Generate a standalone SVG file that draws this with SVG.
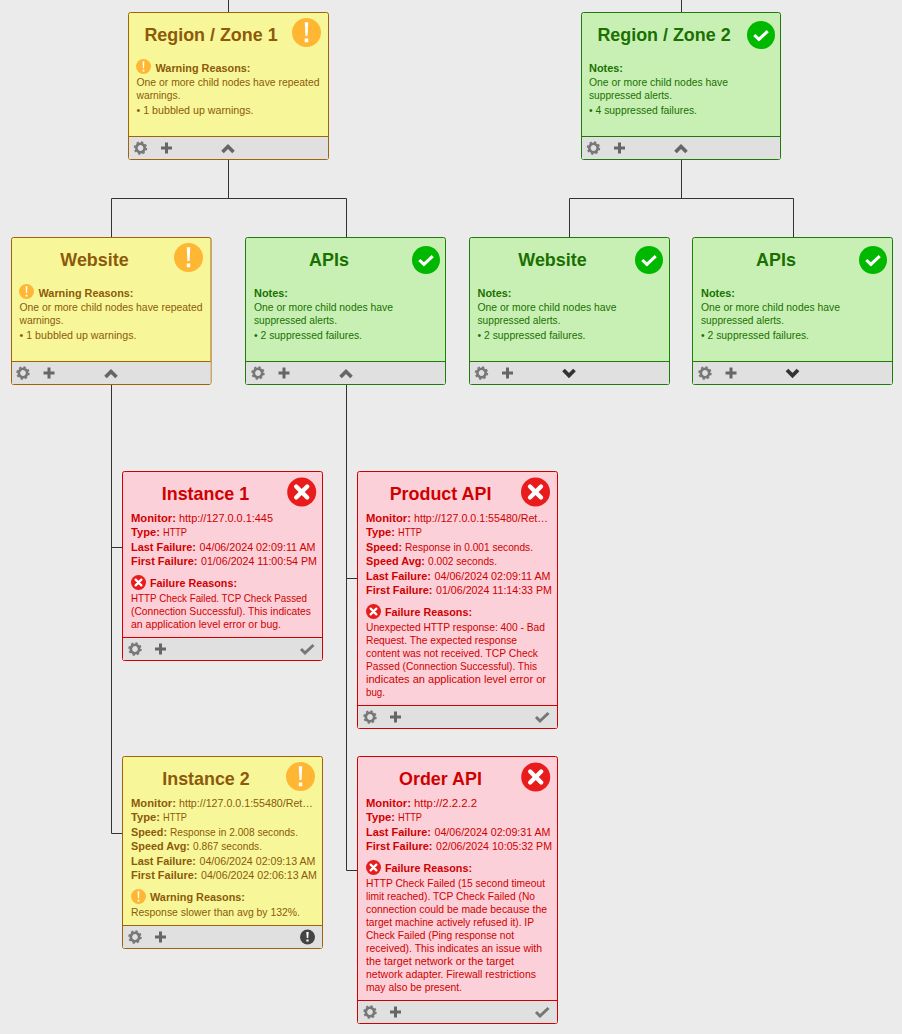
<svg xmlns="http://www.w3.org/2000/svg" xmlns:xlink="http://www.w3.org/1999/xlink" width="902" height="1034" viewBox="0 0 902 1034">
<style>
text{font-family:"Liberation Sans",Arial,sans-serif;font-size:11.6px}
.t{font-size:17.9px;font-weight:bold;text-anchor:middle}
.b{font-weight:bold}
.y .c{fill:#f7f799;stroke:#a0620a}.y text{fill:#8c5a0a}
.g .c{fill:#c8f0b4;stroke:#1f7a0a}.g text{fill:#1a7000}
.r .c{fill:#fbd0d8;stroke:#d00000}.r text{fill:#d00000}
.f{fill:#e0e0e0}
.y .l{stroke:#a0620a}.g .l{stroke:#1f7a0a}.r .l{stroke:#d00000}
.l{fill:none}
#edges path{fill:none;stroke:#333;stroke-width:1}
</style>
<defs>
<g id="warn"><circle r="10" fill="#ffb733"/><path d="M-1.2-7H1.2L.7 2.4H-.7ZM-1.2 4.2H1.2V6.8H-1.2Z" fill="#fff"/></g>
<g id="ok"><circle r="10" fill="#00b800"/><path d="M-4.8 0-1.5 3.2 4.8-2.8" fill="none" stroke="#fff" stroke-width="2.2"/></g>
<g id="err"><circle r="10" fill="#e81c1c"/><path d="M-3.8-3.8 3.8 3.8M3.8-3.8-3.8 3.8" fill="none" stroke="#fff" stroke-width="3" stroke-linecap="round"/></g>
<g id="gear"><circle r="4.2" fill="none" stroke="#777" stroke-width="2.6"/><circle r="5.9" fill="none" stroke="#777" stroke-width="1.6" stroke-dasharray="2.3 2.3"/></g>
<path id="plus" d="M-5.5-1.5H-1.5V-5.5H1.5V-1.5H5.5V1.5H1.5V5.5H-1.5V1.5H-5.5Z" fill="#666"/>
<path id="up" d="M-5.5 4 0-1.5 5.5 4" fill="none" stroke="#666" stroke-width="3.6"/>
<path id="down" d="M-5.5 -3 0 2.5 5.5 -3" fill="none" stroke="#333" stroke-width="3.8"/>
<path id="tick" d="M-6.5 0-2.5 4 6-4" fill="none" stroke="#777" stroke-width="3"/>
<g id="bang"><circle r="7.5" fill="#444"/><path d="M-1.2-5H1.2L.7 1H-.7ZM-1.1 2.4H1.1V4.6H-1.1Z" fill="#fff"/></g>
</defs>
<rect width="902" height="1034" fill="#ebebeb"/>
<g id="edges">
<path d="M228.5 0V12M681.5 0V12"/>
<path d="M228.5 160V198.5M111.5 237V198.5H346.5V237"/>
<path d="M681.5 160V198.5M569.5 237V198.5H793.5V237"/>
<path d="M111.5 385V833.5H122M111.5 547.5H122"/>
<path d="M346.5 385V870.5H357M346.5 578.5H357"/>
</g>
<g id="region1" class="y">
<rect class="c" x="128.5" y="12.5" width="200" height="147" rx="2"/>
<path class="f" d="M129 137H328V159H129Z"/><path class="l" d="M129 136.5H328"/>
<text class="t" x="211" y="41">Region / Zone 1</text>
<use xlink:href="#warn" transform="translate(306.5 32.5) scale(1.45)"/>
<use xlink:href="#warn" transform="translate(143.5 66.5) scale(.75)"/>
<text class="b" x="155.500" y="72" textLength="95" lengthAdjust="spacingAndGlyphs">Warning Reasons:</text>
<text x="136.500" y="86" textLength="183" lengthAdjust="spacingAndGlyphs">One or more child nodes have repeated</text>
<text x="136.500" y="99" textLength="44" lengthAdjust="spacingAndGlyphs">warnings.</text>
<text x="136.500" y="114" textLength="117" lengthAdjust="spacingAndGlyphs">• 1 bubbled up warnings.</text>
<use xlink:href="#gear" x="140.5" y="148"/><use xlink:href="#plus" x="166.5" y="148"/><use xlink:href="#up" x="228" y="148"/>
</g>
<g id="region2" class="g">
<rect class="c" x="581.5" y="12.5" width="199" height="147" rx="2"/>
<path class="f" d="M582 137H780V159H582Z"/><path class="l" d="M582 136.5H780"/>
<text class="t" x="664" y="41">Region / Zone 2</text>
<use xlink:href="#ok" transform="translate(761 35) scale(1.4)"/>
<text class="b" x="589" y="72" textLength="34" lengthAdjust="spacingAndGlyphs">Notes:</text>
<text x="589" y="86" textLength="139" lengthAdjust="spacingAndGlyphs">One or more child nodes have</text>
<text x="589" y="99" textLength="83" lengthAdjust="spacingAndGlyphs">suppressed alerts.</text>
<text x="589" y="114" textLength="108" lengthAdjust="spacingAndGlyphs">• 4 suppressed failures.</text>
<use xlink:href="#gear" x="593.5" y="148"/><use xlink:href="#plus" x="619.5" y="148"/><use xlink:href="#up" x="681" y="148"/>
</g>
<g id="website1" class="y">
<rect class="c" x="11.5" y="237.5" width="199.5" height="147" rx="2"/>
<path class="f" d="M12 362H210.5V384H12Z"/><path class="l" d="M12 361.5H210.5"/>
<text class="t" x="94.500" y="266">Website</text>
<use xlink:href="#warn" transform="translate(188.500 257.500) scale(1.45)"/>
<use xlink:href="#warn" transform="translate(26.500 291.500) scale(.75)"/>
<text class="b" x="38.500" y="297" textLength="95" lengthAdjust="spacingAndGlyphs">Warning Reasons:</text>
<text x="19.500" y="311" textLength="183" lengthAdjust="spacingAndGlyphs">One or more child nodes have repeated</text>
<text x="19.500" y="324" textLength="44" lengthAdjust="spacingAndGlyphs">warnings.</text>
<text x="19.500" y="339" textLength="117" lengthAdjust="spacingAndGlyphs">• 1 bubbled up warnings.</text>
<use xlink:href="#gear" x="23" y="373"/><use xlink:href="#plus" x="49" y="373"/><use xlink:href="#up" x="111" y="373"/>
</g>
<g id="apis1" class="g">
<rect class="c" x="245.500" y="237.5" width="200" height="147" rx="2"/>
<path class="f" d="M246 362H445V384H246Z"/><path class="l" d="M246 361.5H445"/>
<text class="t" x="329" y="266">APIs</text>
<use xlink:href="#ok" transform="translate(426 260) scale(1.4)"/>
<text class="b" x="254" y="297" textLength="34" lengthAdjust="spacingAndGlyphs">Notes:</text>
<text x="254" y="311" textLength="139" lengthAdjust="spacingAndGlyphs">One or more child nodes have</text>
<text x="254" y="324" textLength="83" lengthAdjust="spacingAndGlyphs">suppressed alerts.</text>
<text x="254" y="339" textLength="108" lengthAdjust="spacingAndGlyphs">• 2 suppressed failures.</text>
<use xlink:href="#gear" x="258" y="373"/><use xlink:href="#plus" x="284" y="373"/><use xlink:href="#up" x="346" y="373"/>
</g>
<g id="website2" class="g">
<rect class="c" x="469.5" y="237.5" width="200" height="147" rx="2"/>
<path class="f" d="M470 362H669V384H470Z"/><path class="l" d="M470 361.5H669"/>
<text class="t" x="552.500" y="266">Website</text>
<use xlink:href="#ok" transform="translate(649 260) scale(1.4)"/>
<text class="b" x="477.500" y="297" textLength="34" lengthAdjust="spacingAndGlyphs">Notes:</text>
<text x="477.500" y="311" textLength="139" lengthAdjust="spacingAndGlyphs">One or more child nodes have</text>
<text x="477.500" y="324" textLength="83" lengthAdjust="spacingAndGlyphs">suppressed alerts.</text>
<text x="477.500" y="339" textLength="108" lengthAdjust="spacingAndGlyphs">• 2 suppressed failures.</text>
<use xlink:href="#gear" x="481.500" y="373"/><use xlink:href="#plus" x="507.500" y="373"/><use xlink:href="#down" x="569" y="373"/>
</g>
<g id="apis2" class="g">
<rect class="c" x="692.5" y="237.5" width="200" height="147" rx="2"/>
<path class="f" d="M693 362H892V384H693Z"/><path class="l" d="M693 361.5H892"/>
<text class="t" x="776" y="266">APIs</text>
<use xlink:href="#ok" transform="translate(873 260) scale(1.4)"/>
<text class="b" x="701" y="297" textLength="34" lengthAdjust="spacingAndGlyphs">Notes:</text>
<text x="701" y="311" textLength="139" lengthAdjust="spacingAndGlyphs">One or more child nodes have</text>
<text x="701" y="324" textLength="83" lengthAdjust="spacingAndGlyphs">suppressed alerts.</text>
<text x="701" y="339" textLength="108" lengthAdjust="spacingAndGlyphs">• 2 suppressed failures.</text>
<use xlink:href="#gear" x="705" y="373"/><use xlink:href="#plus" x="731" y="373"/><use xlink:href="#down" x="792.500" y="373"/>
</g>
<g id="instance1" class="r">
<rect class="c" x="122.500" y="471.5" width="200" height="189" rx="2"/>
<path class="f" d="M123 638H322V660H123Z"/><path class="l" d="M123 637.5H322"/>
<text class="t" x="205.500" y="500">Instance 1</text>
<use xlink:href="#err" transform="translate(301.700 492) scale(1.45)"/>
<text class="b" x="131" y="522" textLength="45" lengthAdjust="spacingAndGlyphs">Monitor:</text><text x="179" y="522" textLength="94" lengthAdjust="spacingAndGlyphs">http://127.0.0.1:445</text>
<text class="b" x="131" y="536" textLength="29" lengthAdjust="spacingAndGlyphs">Type:</text><text x="163" y="536" textLength="24" lengthAdjust="spacingAndGlyphs">HTTP</text>
<text class="b" x="131" y="551" textLength="65" lengthAdjust="spacingAndGlyphs">Last Failure:</text><text x="199.500" y="551" textLength="116" lengthAdjust="spacingAndGlyphs">04/06/2024 02:09:11 AM</text>
<text class="b" x="131" y="565" textLength="66.500" lengthAdjust="spacingAndGlyphs">First Failure:</text><text x="201" y="565" textLength="116" lengthAdjust="spacingAndGlyphs">01/06/2024 11:00:54 PM</text>
<use xlink:href="#err" transform="translate(138.500 582.500) scale(.75)"/>
<text class="b" x="150" y="587" textLength="87" lengthAdjust="spacingAndGlyphs">Failure Reasons:</text>
<text x="131" y="602" textLength="176" lengthAdjust="spacingAndGlyphs">HTTP Check Failed. TCP Check Passed</text>
<text x="131" y="615" textLength="180" lengthAdjust="spacingAndGlyphs">(Connection Successful). This indicates</text>
<text x="131" y="628" textLength="150" lengthAdjust="spacingAndGlyphs">an application level error or bug.</text>
<use xlink:href="#gear" x="135" y="649"/><use xlink:href="#plus" x="160.500" y="649"/><use xlink:href="#tick" x="307.500" y="649"/>
</g>
<g id="product-api" class="r">
<rect class="c" x="357.500" y="471.5" width="200" height="257" rx="2"/>
<path class="f" d="M358 706H557V728H358Z"/><path class="l" d="M358 705.5H557"/>
<text class="t" x="440.500" y="500">Product API</text>
<use xlink:href="#err" transform="translate(535.500 492) scale(1.45)"/>
<text class="b" x="366" y="522" textLength="45" lengthAdjust="spacingAndGlyphs">Monitor:</text><text x="414" y="522" textLength="134" lengthAdjust="spacingAndGlyphs">http://127.0.0.1:55480/Ret…</text>
<text class="b" x="366" y="536" textLength="29" lengthAdjust="spacingAndGlyphs">Type:</text><text x="398" y="536" textLength="24" lengthAdjust="spacingAndGlyphs">HTTP</text>
<text class="b" x="366" y="551" textLength="36" lengthAdjust="spacingAndGlyphs">Speed:</text><text x="405" y="551" textLength="128" lengthAdjust="spacingAndGlyphs">Response in 0.001 seconds.</text>
<text class="b" x="366" y="565" textLength="59" lengthAdjust="spacingAndGlyphs">Speed Avg:</text><text x="428" y="565" textLength="69" lengthAdjust="spacingAndGlyphs">0.002 seconds.</text>
<text class="b" x="366" y="580" textLength="65" lengthAdjust="spacingAndGlyphs">Last Failure:</text><text x="434.500" y="580" textLength="116" lengthAdjust="spacingAndGlyphs">04/06/2024 02:09:11 AM</text>
<text class="b" x="366" y="594" textLength="66.500" lengthAdjust="spacingAndGlyphs">First Failure:</text><text x="436" y="594" textLength="116" lengthAdjust="spacingAndGlyphs">01/06/2024 11:14:33 PM</text>
<use xlink:href="#err" transform="translate(373.500 611.500) scale(.75)"/>
<text class="b" x="385" y="616" textLength="87" lengthAdjust="spacingAndGlyphs">Failure Reasons:</text>
<text x="366" y="631" textLength="179" lengthAdjust="spacingAndGlyphs">Unexpected HTTP response: 400 - Bad</text>
<text x="366" y="644" textLength="151" lengthAdjust="spacingAndGlyphs">Request. The expected response</text>
<text x="366" y="657" textLength="172" lengthAdjust="spacingAndGlyphs">content was not received. TCP Check</text>
<text x="366" y="670" textLength="171" lengthAdjust="spacingAndGlyphs">Passed (Connection Successful). This</text>
<text x="366" y="683" textLength="180" lengthAdjust="spacingAndGlyphs">indicates an application level error or</text>
<text x="366" y="696" textLength="19" lengthAdjust="spacingAndGlyphs">bug.</text>
<use xlink:href="#gear" x="370" y="717"/><use xlink:href="#plus" x="395.500" y="717"/><use xlink:href="#tick" x="542.500" y="717"/>
</g>
<g id="instance2" class="y">
<rect class="c" x="122.500" y="756.5" width="200" height="192" rx="2"/>
<path class="f" d="M123 926H322V948H123Z"/><path class="l" d="M123 925.5H322"/>
<text class="t" x="206" y="785">Instance 2</text>
<use xlink:href="#warn" transform="translate(300.500 776.500) scale(1.45)"/>
<text class="b" x="131" y="807" textLength="45" lengthAdjust="spacingAndGlyphs">Monitor:</text><text x="179" y="807" textLength="134" lengthAdjust="spacingAndGlyphs">http://127.0.0.1:55480/Ret…</text>
<text class="b" x="131" y="821" textLength="29" lengthAdjust="spacingAndGlyphs">Type:</text><text x="163" y="821" textLength="24" lengthAdjust="spacingAndGlyphs">HTTP</text>
<text class="b" x="131" y="836" textLength="36" lengthAdjust="spacingAndGlyphs">Speed:</text><text x="170" y="836" textLength="128" lengthAdjust="spacingAndGlyphs">Response in 2.008 seconds.</text>
<text class="b" x="131" y="850" textLength="59" lengthAdjust="spacingAndGlyphs">Speed Avg:</text><text x="193" y="850" textLength="69" lengthAdjust="spacingAndGlyphs">0.867 seconds.</text>
<text class="b" x="131" y="865" textLength="65" lengthAdjust="spacingAndGlyphs">Last Failure:</text><text x="199.500" y="865" textLength="116" lengthAdjust="spacingAndGlyphs">04/06/2024 02:09:13 AM</text>
<text class="b" x="131" y="879" textLength="66.500" lengthAdjust="spacingAndGlyphs">First Failure:</text><text x="201" y="879" textLength="116" lengthAdjust="spacingAndGlyphs">04/06/2024 02:06:13 AM</text>
<use xlink:href="#warn" transform="translate(138.500 896.500) scale(.75)"/>
<text class="b" x="150" y="901" textLength="95" lengthAdjust="spacingAndGlyphs">Warning Reasons:</text>
<text x="131" y="916" textLength="169" lengthAdjust="spacingAndGlyphs">Response slower than avg by 132%.</text>
<use xlink:href="#gear" x="135" y="937"/><use xlink:href="#plus" x="160.500" y="937"/><use xlink:href="#bang" x="307.500" y="937"/>
</g>
<g id="order-api" class="r">
<rect class="c" x="357.500" y="756.5" width="200" height="267" rx="2"/>
<path class="f" d="M358 1001H557V1023H358Z"/><path class="l" d="M358 1000.500H557"/>
<text class="t" x="440.500" y="785">Order API</text>
<use xlink:href="#err" transform="translate(535.700 777) scale(1.45)"/>
<text class="b" x="366" y="807" textLength="45" lengthAdjust="spacingAndGlyphs">Monitor:</text><text x="414" y="807" textLength="63" lengthAdjust="spacingAndGlyphs">http://2.2.2.2</text>
<text class="b" x="366" y="821" textLength="29" lengthAdjust="spacingAndGlyphs">Type:</text><text x="398" y="821" textLength="24" lengthAdjust="spacingAndGlyphs">HTTP</text>
<text class="b" x="366" y="836" textLength="65" lengthAdjust="spacingAndGlyphs">Last Failure:</text><text x="434.500" y="836" textLength="116" lengthAdjust="spacingAndGlyphs">04/06/2024 02:09:31 AM</text>
<text class="b" x="366" y="850" textLength="66.500" lengthAdjust="spacingAndGlyphs">First Failure:</text><text x="436" y="850" textLength="116" lengthAdjust="spacingAndGlyphs">02/06/2024 10:05:32 PM</text>
<use xlink:href="#err" transform="translate(373.500 867.500) scale(.75)"/>
<text class="b" x="385" y="872" textLength="87" lengthAdjust="spacingAndGlyphs">Failure Reasons:</text>
<text x="366" y="887" textLength="179" lengthAdjust="spacingAndGlyphs">HTTP Check Failed (15 second timeout</text>
<text x="366" y="900" textLength="169" lengthAdjust="spacingAndGlyphs">limit reached). TCP Check Failed (No</text>
<text x="366" y="913" textLength="181" lengthAdjust="spacingAndGlyphs">connection could be made because the</text>
<text x="366" y="926" textLength="168" lengthAdjust="spacingAndGlyphs">target machine actively refused it). IP</text>
<text x="366" y="939" textLength="148" lengthAdjust="spacingAndGlyphs">Check Failed (Ping response not</text>
<text x="366" y="952" textLength="176" lengthAdjust="spacingAndGlyphs">received). This indicates an issue with</text>
<text x="366" y="965" textLength="148" lengthAdjust="spacingAndGlyphs">the target network or the target</text>
<text x="366" y="978" textLength="170" lengthAdjust="spacingAndGlyphs">network adapter. Firewall restrictions</text>
<text x="366" y="991" textLength="96" lengthAdjust="spacingAndGlyphs">may also be present.</text>
<use xlink:href="#gear" x="370" y="1012"/><use xlink:href="#plus" x="395.500" y="1012"/><use xlink:href="#tick" x="542.500" y="1012"/>
</g>
</svg>
